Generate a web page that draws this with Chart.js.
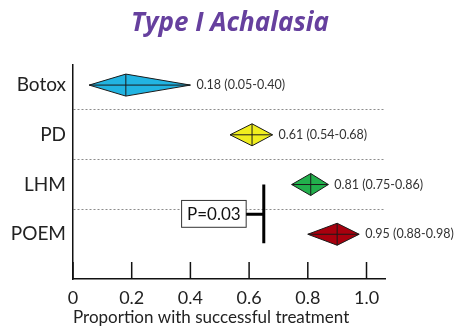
<!DOCTYPE html>
<html>
<head>
<meta charset="utf-8">
<script src="https://cdn.jsdelivr.net/npm/chart.js@4"></script>
<style>
  html, body { margin: 0; padding: 0; background: #fff; }
  #wrap { width: 460px; height: 328px; }
</style>
</head>
<body>
<div id="wrap"><canvas id="chart"></canvas></div>
<script>
// Values (diamonds as drawn, labels as printed)
const categories = ['Botox', 'PD', 'LHM', 'POEM'];
const estimates = [0.18, 0.61, 0.81, 0.90];
const lowerBounds = [0.055, 0.535, 0.745, 0.80];
const upperBounds = [0.40, 0.68, 0.87, 0.975];
const ciLabels = ['0.18 (0.05-0.40)', '0.61 (0.54-0.68)', '0.81 (0.75-0.86)', '0.95 (0.88-0.98)'];
const diamondColors = ['#22b4e2', '#f0ee1e', '#22b04c', '#a8000e'];
const xTicks = [0, 0.2, 0.4, 0.6, 0.8, 1.0];
const pValueText = 'P=0.03';

const FONT = 'Lato, sans-serif';

// Diamonds, value labels, inward x ticks and the P-value bracket
const forestPlugin = {
  id: 'forest',
  afterDatasetsDraw(chart) {
    const { ctx, chartArea } = chart;
    const x = chart.scales.x;
    const y = chart.scales.y;
    ctx.save();

    // tick marks point up into the plot
    ctx.strokeStyle = '#111';
    ctx.lineWidth = 1.5;
    x.ticks.forEach((t) => {
      const px = x.getPixelForValue(t.value);
      ctx.beginPath();
      ctx.moveTo(px, chartArea.bottom);
      ctx.lineTo(px, chartArea.bottom - 17);
      ctx.stroke();
    });

    categories.forEach((c, i) => {
      const cy = y.getPixelForValue(i + 1);
      const xl = x.getPixelForValue(lowerBounds[i]);
      const xm = x.getPixelForValue(estimates[i]);
      const xr = x.getPixelForValue(upperBounds[i]);
      const h = 11;
      ctx.beginPath();
      ctx.moveTo(xl, cy);
      ctx.lineTo(xm, cy - h);
      ctx.lineTo(xr, cy);
      ctx.lineTo(xm, cy + h);
      ctx.closePath();
      ctx.fillStyle = diamondColors[i];
      ctx.fill();
      ctx.lineWidth = 1;
      ctx.strokeStyle = '#1a1a1a';
      ctx.stroke();
      ctx.beginPath();
      ctx.moveTo(xl, cy);
      ctx.lineTo(xr, cy);
      ctx.moveTo(xm, cy - h);
      ctx.lineTo(xm, cy + h);
      ctx.stroke();

      ctx.fillStyle = '#333';
      ctx.font = '12.5px ' + FONT;
      ctx.textAlign = 'left';
      ctx.textBaseline = 'middle';
      ctx.fillText(ciLabels[i], xr + 6, cy);
    });

    // P value box + bracket between LHM and POEM
    const bx0 = x.getPixelForValue(0.37), bx1 = x.getPixelForValue(0.59);
    const by0 = y.getPixelForValue(3.32), by1 = y.getPixelForValue(3.86);
    ctx.fillStyle = '#fff';
    ctx.fillRect(bx0, by0, bx1 - bx0, by1 - by0);
    ctx.lineWidth = 1;
    ctx.strokeStyle = '#333';
    ctx.strokeRect(bx0, by0, bx1 - bx0, by1 - by0);
    ctx.fillStyle = '#111';
    ctx.font = '17px ' + FONT;
    ctx.textAlign = 'center';
    ctx.fillText(pValueText, (bx0 + bx1) / 2, (by0 + by1) / 2 + 1);

    const vx = x.getPixelForValue(0.65);
    const hy = y.getPixelForValue(3.6);
    ctx.lineWidth = 3;
    ctx.strokeStyle = '#000';
    ctx.beginPath();
    ctx.moveTo(vx, y.getPixelForValue(3.0));
    ctx.lineTo(vx, y.getPixelForValue(4.18));
    ctx.moveTo(bx1, hy);
    ctx.lineTo(vx, hy);
    ctx.stroke();

    ctx.restore();
  }
};

const ctx = document.getElementById('chart').getContext('2d');

new Chart(ctx, {
  type: 'scatter',
  data: {
    datasets: [{
      data: estimates.map((v, i) => ({ x: v, y: i + 1 })),
      pointRadius: 0
    }]
  },
  options: {
    responsive: true,
    maintainAspectRatio: false,
    animation: false,
    layout: { padding: 0 },
    plugins: {
      legend: { display: false },
      tooltip: { enabled: false },
      title: {
        display: true,
        text: 'Type I Achalasia',
        color: '#66409e',
        font: { family: '"Open Sans", sans-serif', size: 26, weight: 'bold', style: 'italic', lineHeight: 1.2 },
        padding: { top: 8, bottom: 26 }
      }
    },
    scales: {
      x: {
        type: 'linear',
        min: 0,
        max: 1.063,
        afterBuildTicks: (s) => { s.ticks = xTicks.map((v) => ({ value: v })); },
        afterFit: (s) => { s.height = 49; },
        ticks: {
          padding: 0,
          color: '#222',
          autoSkip: false,
          maxRotation: 0,
          font: { family: FONT, size: 18 },
          callback: (v) => (v === 0 ? '0' : Number(v).toFixed(1))
        },
        grid: { display: false },
        border: { display: true, color: '#111', width: 1.5 },
        title: {
          display: true,
          text: 'Proportion with successful treatment',
          align: 'start',
          color: '#222',
          font: { family: FONT, size: 17, lineHeight: 1 },
          padding: { top: 0, bottom: 1.5 }
        }
      },
      y: {
        type: 'linear',
        reverse: true,
        min: 0.6,
        max: 4.9,
        afterBuildTicks: (s) => {
          const vals = [];
          categories.forEach((c, i) => {
            vals.push(i + 1);
            if (i < categories.length - 1) vals.push(i + 1.5);
          });
          s.ticks = vals.map((v) => ({ value: v }));
        },
        afterFit: (s) => { s.width = 73; },
        ticks: {
          padding: 7,
          color: '#222',
          autoSkip: false,
          font: { family: FONT, size: 19 },
          callback: (v) => (Number.isInteger(v) ? categories[v - 1] : '')
        },
        grid: {
          drawTicks: false,
          lineWidth: 1,
          color: (c) => (c.tick && !Number.isInteger(c.tick.value) ? '#8c8c8c' : 'rgba(0,0,0,0)')
        },
        border: { display: true, color: '#111', width: 1.5, dash: [2, 2] }
      },
      // empty right-hand axis: keeps room for the CI labels without pushing the title off-centre
      yRight: {
        type: 'linear',
        position: 'right',
        afterFit: (s) => { s.width = 75; },
        ticks: { display: false },
        grid: { display: false },
        border: { display: false }
      }
    }
  },
  plugins: [forestPlugin]
});
</script>
</body>
</html>
